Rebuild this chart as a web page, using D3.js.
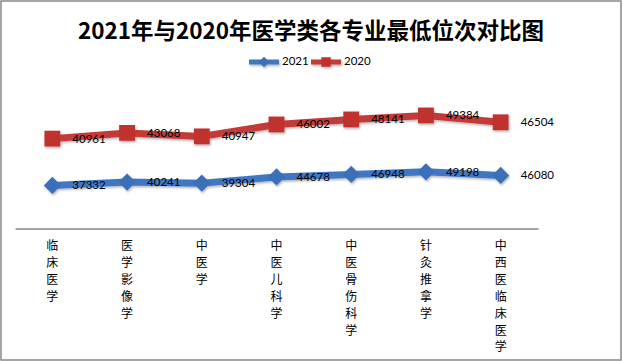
<!DOCTYPE html>
<html><head><meta charset="utf-8">
<script src="https://cdn.jsdelivr.net/npm/d3@7"></script>
<style>html,body{margin:0;padding:0;background:#fff;}svg{display:block;}</style>
</head><body>
<svg id="c" width="623" height="361"></svg>
<script>
const title = "2021年与2020年医学类各专业最低位次对比图";
const categories = ["临床医学","医学影像学","中医学","中医儿科学","中医骨伤科学","针灸推拿学","中西医临床医学"];
const seriesNames = ["2021","2020"];
const values2021 = [37332,40241,39304,44678,46948,49198,46080];
const values2020 = [40961,43068,40947,46002,48141,49384,46504];
const yMax = 120000;

const svg = d3.select("#c");
const defs = svg.append("defs");
const f = defs.append("filter").attr("id","sh").attr("x","-30%").attr("y","-30%").attr("width","160%").attr("height","160%");
f.append("feDropShadow").attr("dx",1).attr("dy",1.5).attr("stdDeviation",1).attr("flood-color","#000").attr("flood-opacity",0.3);

svg.append("rect").attr("x",1).attr("y",1).attr("width",620).attr("height",359)
  .attr("fill","#fff").attr("stroke","#888").attr("stroke-width",1.5);

svg.append("text").attr("x",311).attr("y",39).attr("text-anchor","middle")
  .attr("font-family","'Noto Sans CJK SC', sans-serif").attr("font-weight","bold")
  .attr("font-size",22.5).attr("fill","#000").text(title);

const x = d3.scaleBand().domain(categories).range([15,538]);
const y = d3.scaleLinear().domain([0,yMax]).range([228,91]);

// stacked
const stacked2021 = values2021.slice();
const stacked2020 = values2020.map((v,i)=>v+values2021[i]);

const blue = "#3f77c2", blueM = "#3a6fb8";
const red = "#c23b39", redM = "#c0302f";

// axis
const xAxis = d3.axisBottom(x).tickSize(0).tickFormat("");
const gx = svg.append("g").attr("transform","translate(0,228.5)").call(xAxis);
gx.select(".domain").attr("stroke","#868686").attr("stroke-width",1.5);

// category labels vertical
categories.forEach(c=>{
  const t = svg.append("text").attr("font-family","'Noto Sans CJK SC', sans-serif")
    .attr("font-size",12).attr("fill","#000").attr("text-anchor","middle");
  Array.from(c).forEach((ch,i)=>{
    t.append("tspan").attr("x",x(c)+x.bandwidth()/2).attr("y",250+i*16.9).text(ch);
  });
});

const cx = c => x(c)+x.bandwidth()/2;
const line = d3.line().x((d,i)=>cx(categories[i])).y(d=>y(d));

function drawSeries(vals, labels, col, mcol, shape){
  const g = svg.append("g").attr("filter","url(#sh)");
  g.append("path").datum(vals).attr("d",line).attr("fill","none")
    .attr("stroke",col).attr("stroke-width",7).attr("stroke-linejoin","round");
  const sym = shape==="square" ? d3.symbol().type(d3.symbolSquare).size(250)
                               : d3.symbol().type(d3.symbolDiamond2).size(190);
  g.selectAll("path.m").data(vals).join("path").attr("class","m")
    .attr("d",sym).attr("transform",(d,i)=>`translate(${cx(categories[i])},${y(d)})`)
    .attr("fill",mcol);
  svg.append("g").selectAll("text").data(vals).join("text")
    .attr("x",(d,i)=>cx(categories[i])+20).attr("y",d=>y(d)+1)
    .attr("dominant-baseline","middle")
    .attr("font-family","Lato, 'Open Sans', sans-serif").attr("font-size",11.5).attr("fill","#000")
    .text((d,i)=>labels[i]);
}
drawSeries(stacked2021, values2021, blue, blueM, "diamond");
drawSeries(stacked2020, values2020, red, redM, "square");

// legend
const legend = [
  {name:seriesNames[0], col:blue, mcol:blueM, shape:"diamond", x:249},
  {name:seriesNames[1], col:red, mcol:redM, shape:"square", x:311}
];
legend.forEach(l=>{
  const g = svg.append("g").attr("filter","url(#sh)");
  g.append("line").attr("x1",l.x).attr("x2",l.x+30).attr("y1",62).attr("y2",62)
    .attr("stroke",l.col).attr("stroke-width",5);
  const sym = l.shape==="square" ? d3.symbol().type(d3.symbolSquare).size(90)
                                  : d3.symbol().type(d3.symbolDiamond2).size(70);
  g.append("path").attr("d",sym).attr("transform",`translate(${l.x+15},62)`).attr("fill",l.mcol);
  svg.append("text").attr("x",l.x+33).attr("y",62.5).attr("dominant-baseline","middle")
    .attr("font-family","Lato, 'Open Sans', sans-serif").attr("font-size",11.5).attr("fill","#000").text(l.name);
});
</script>
</body></html>
